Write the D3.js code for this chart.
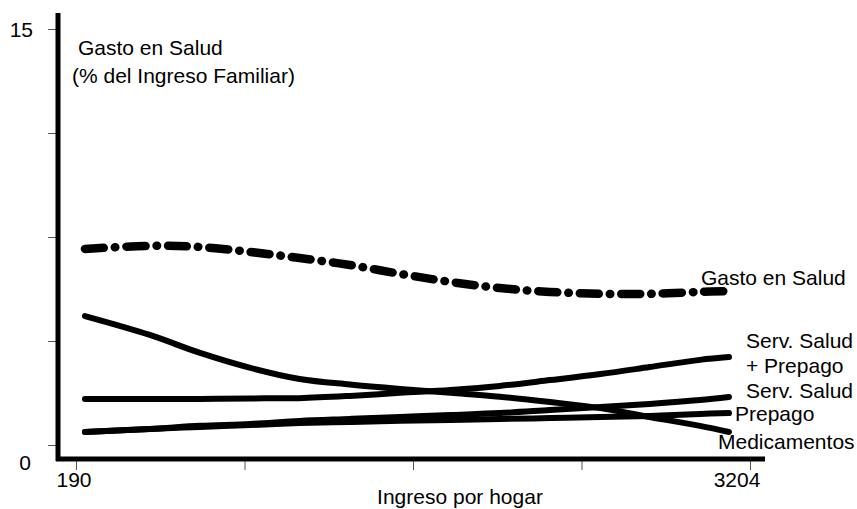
<!DOCTYPE html>
<html>
<head>
<meta charset="utf-8">
<script src="https://cdn.jsdelivr.net/npm/d3@7"></script>
<style>
  body { margin: 0; background: #fff; }
  text { font-family: "Liberation Sans", Arial, sans-serif; font-size: 21px; fill: #000; }
</style>
</head>
<body>
<div id="chart-area"></div>
<script>
// ingreso por hogar (x) and each series, % del ingreso familiar
const ingreso = [230, 520, 745, 970, 1190, 1415, 1640, 1865, 2085, 2310, 2535, 2755, 2980, 3110];
const gastoSalud = [7.07, 7.18, 7.14, 6.96, 6.74, 6.49, 6.17, 5.88, 5.66, 5.52, 5.45, 5.45, 5.52, 5.55];
const medicamentos = [4.65, 3.97, 3.32, 2.78, 2.38, 2.18, 2.02, 1.88, 1.74, 1.55, 1.33, 1.01, 0.69, 0.47];
const servPrepago = [1.66, 1.66, 1.66, 1.68, 1.69, 1.77, 1.88, 1.98, 2.13, 2.34, 2.56, 2.81, 3.07, 3.17];
const servSalud = [0.47, 0.58, 0.69, 0.76, 0.87, 0.94, 1.01, 1.08, 1.15, 1.26, 1.37, 1.48, 1.62, 1.73];
const prepago = [0.47, 0.58, 0.65, 0.72, 0.79, 0.83, 0.87, 0.90, 0.94, 0.97, 1.01, 1.05, 1.12, 1.15];

const xTicks = [190, 943.5, 1697, 2450.5, 3204];
const xTickLabels = ["190", "", "", "", "3204"];
const yTicks = [0, 3.75, 7.5, 11.25, 15];
const yTickLabels = ["0", "", "", "", "15"];

const width = 857;
const height = 509;

const svg = d3.select("#chart-area").append("svg")
    .attr("width", width)
    .attr("height", height);

const x = d3.scaleLinear().domain([190, 3204]).range([76, 750]);
const y = d3.scaleLinear().domain([0, 15]).range([445, 29]);

// y axis
const yAxisGroup = svg.append("g").attr("transform", "translate(58,0)");
yAxisGroup.call(d3.axisLeft(y).tickValues(yTicks).tickSize(10).tickFormat(""));
yAxisGroup.select(".domain").remove();
yAxisGroup.selectAll(".tick line").attr("stroke", "#555").attr("stroke-width", 1);
svg.append("line")
    .attr("x1", 58).attr("x2", 58)
    .attr("y1", 13).attr("y2", 461)
    .attr("stroke", "#000").attr("stroke-width", 5);

// x axis
const xAxisGroup = svg.append("g").attr("transform", "translate(0,459)");
xAxisGroup.call(d3.axisBottom(x).tickValues(xTicks).tickSize(11).tickFormat(""));
xAxisGroup.select(".domain").remove();
xAxisGroup.selectAll(".tick line").attr("stroke", "#555").attr("stroke-width", 1);
svg.append("line")
    .attr("x1", 56).attr("x2", 765)
    .attr("y1", 459).attr("y2", 459)
    .attr("stroke", "#000").attr("stroke-width", 5);

// tick labels
svg.append("text").attr("x", 33).attr("y", y(15) + 8).attr("text-anchor", "end").text(yTickLabels[4]);
svg.append("text").attr("x", 31).attr("y", y(0) + 25).attr("text-anchor", "end").text(yTickLabels[0]);
svg.append("text").attr("x", x(190) - 2).attr("y", 487).attr("text-anchor", "middle").text(xTickLabels[0]);
svg.append("text").attr("x", x(3204) - 13).attr("y", 487).attr("text-anchor", "middle").text(xTickLabels[4]);

// titles
svg.append("text").attr("x", 78).attr("y", 55).text("Gasto en Salud");
svg.append("text").attr("x", 72).attr("y", 83).text("(% del Ingreso Familiar)");
svg.append("text").attr("x", 460).attr("y", 504).attr("text-anchor", "middle").text("Ingreso por hogar");

const line = d3.line()
    .x((d, i) => x(ingreso[i]))
    .y((d) => y(d))
    .curve(d3.curveCatmullRom.alpha(0.5));

const series = [
  {values: prepago, width: 6},
  {values: servSalud, width: 6},
  {values: servPrepago, width: 6},
  {values: medicamentos, width: 6},
  {values: gastoSalud, width: 8.5, dash: "19 11 0.5 11"}
];

svg.selectAll(".serie").data(series).enter().append("path")
    .attr("class", "serie")
    .attr("d", (d) => line(d.values))
    .attr("fill", "none")
    .attr("stroke", "#000")
    .attr("stroke-width", (d) => d.width)
    .attr("stroke-linecap", "round")
    .attr("stroke-dasharray", (d) => d.dash || null);

// end labels
svg.append("text").attr("x", 701).attr("y", 285).text("Gasto en Salud");
svg.append("text").attr("x", 746).attr("y", 348).text("Serv. Salud");
svg.append("text").attr("x", 746).attr("y", 373).text("+ Prepago");
svg.append("text").attr("x", 746).attr("y", 398).text("Serv. Salud");
svg.append("text").attr("x", 735).attr("y", 421).text("Prepago");
svg.append("text").attr("x", 718).attr("y", 449).text("Medicamentos");
</script>
</body>
</html>
